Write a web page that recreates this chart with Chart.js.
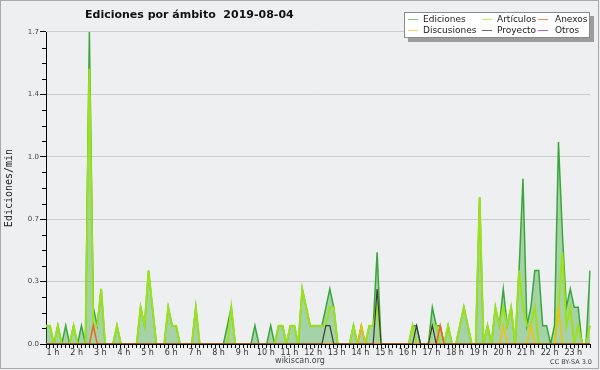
<!DOCTYPE html>
<html>
<head>
<meta charset="utf-8">
<script src="https://cdn.jsdelivr.net/npm/chart.js@4.4.1/dist/chart.umd.min.js"></script>
<style>
html,body{margin:0;padding:0;background:#eeeff1;}
#wrap{width:600px;height:370px;position:relative;}
</style>
</head>
<body>
<div id="wrap"><canvas id="c" width="600" height="370"></canvas></div>
<script>
// 10-minute slots, from 0:50 to 23:50
const slotTimes = Array.from({length: 139}, (_, i) => {
  const m = 50 + i * 10;
  return Math.floor(m / 60) + ':' + String(m % 60).padStart(2, '0');
});
const hourLabels = ['1 h','2 h','3 h','4 h','5 h','6 h','7 h','8 h','9 h','10 h','11 h','12 h',
  '13 h','14 h','15 h','16 h','17 h','18 h','19 h','20 h','21 h','22 h','23 h'];
const yTickLabels = ['0.0','0.3','0.7','1.0','1.4','1.7'];

const ediciones = [
  0.1,0.1,0,0.1,0,0.1,0,0.1,0,0.1,
  0,1.7,0.2,0.1,0.3,0,0,0,0.1,0,
  0,0,0,0,0.2,0.1,0.4,0.2,0,0,
  0,0.2,0.1,0.1,0,0,0,0,0.2,0,
  0,0,0,0,0,0,0.1,0.2,0,0,
  0,0,0,0.1,0,0,0,0.1,0,0.1,
  0.1,0,0.1,0.1,0,0.3,0.2,0.1,0.1,0.1,
  0.1,0.2,0.3,0.2,0,0,0,0,0.1,0,
  0.1,0,0.1,0.1,0.5,0,0,0,0,0,
  0,0,0,0.1,0.1,0,0,0,0.2,0.1,
  0.1,0,0.1,0,0,0.1,0.2,0.1,0,0,
  0.8,0,0.1,0,0.2,0.1,0.3,0.1,0.2,0,
  0.4,0.9,0.1,0.2,0.4,0.4,0.1,0.1,0,0.1,
  1.1,0.6,0.2,0.3,0.2,0.2,0,0,0.4
];
const articulos = [
  0.1,0.1,0,0.1,0,0,0,0.1,0,0,
  0,1.5,0.1,0.1,0.3,0,0,0,0.1,0,
  0,0,0,0,0.2,0.1,0.4,0.2,0,0,
  0,0.2,0.1,0.1,0,0,0,0,0.2,0,
  0,0,0,0,0,0,0,0.2,0,0,
  0,0,0,0,0,0,0,0,0,0.1,
  0.1,0,0.1,0.1,0,0.3,0.2,0.1,0.1,0.1,
  0.1,0.1,0.2,0.2,0,0,0,0,0.1,0,
  0,0,0.1,0.1,0.2,0,0,0,0,0,
  0,0,0,0.1,0,0,0,0,0.1,0.1,
  0,0,0.1,0,0,0.1,0.2,0.1,0,0,
  0.8,0,0.1,0,0.2,0.1,0.2,0.1,0.2,0,
  0.4,0.2,0.1,0.1,0.2,0,0,0,0,0,
  0.2,0.5,0.1,0.2,0,0.1,0,0,0.1
];
const anexos = [
  0,0,0,0,0,0,0,0,0,0,
  0,0,0.1,0,0,0,0,0,0,0,
  0,0,0,0,0,0,0,0,0,0,
  0,0,0,0,0,0,0,0,0,0,
  0,0,0,0,0,0,0,0,0,0,
  0,0,0,0,0,0,0,0,0,0,
  0,0,0,0,0,0,0,0,0,0,
  0,0,0,0,0,0,0,0,0,0,
  0,0,0,0,0,0,0,0,0,0,
  0,0,0,0,0,0,0,0,0,0,
  0.1,0,0,0,0,0,0,0,0,0,
  0,0,0,0,0,0,0,0,0,0,
  0,0,0,0,0,0,0,0,0,0,
  0,0,0,0,0,0,0,0,0
];
const discusiones = [
  0,0,0,0,0,0,0,0,0,0,
  0,0,0,0,0,0,0,0,0,0,
  0,0,0,0,0,0,0,0,0,0,
  0,0,0,0,0,0,0,0,0,0,
  0,0,0,0,0,0,0,0,0,0,
  0,0,0,0,0,0,0,0,0,0,
  0,0,0,0,0,0,0,0,0,0,
  0,0,0,0,0,0,0,0,0,0,
  0.1,0,0,0,0,0,0,0,0,0,
  0,0,0,0,0,0,0,0,0,0,
  0,0,0,0,0,0,0,0,0,0,
  0,0,0,0,0,0,0.1,0,0,0,
  0,0,0,0.1,0,0,0,0,0,0,
  0.2,0,0,0,0,0,0,0,0
];
const proyecto = [
  0,0,0,0,0,0,0,0,0,0,
  0,0,0,0,0,0,0,0,0,0,
  0,0,0,0,0,0,0,0,0,0,
  0,0,0,0,0,0,0,0,0,0,
  0,0,0,0,0,0,0,0,0,0,
  0,0,0,0,0,0,0,0,0,0,
  0,0,0,0,0,0,0,0,0,0,
  0,0.1,0.1,0,0,0,0,0,0,0,
  0,0,0,0,0.3,0,0,0,0,0,
  0,0,0,0,0.1,0,0,0,0.1,0,
  0,0,0,0,0,0,0,0,0,0,
  0,0,0,0,0,0,0,0,0,0,
  0,0,0,0,0,0,0,0,0,0,
  0,0,0,0,0,0,0,0,0
];
const otros = new Array(139).fill(0);

const BG = '#eeeff1';

const frame = {
  id: 'frame',
  beforeDraw(chart) {
    const ctx = chart.ctx;
    ctx.save();
    ctx.fillStyle = BG;
    ctx.fillRect(0, 0, chart.width, chart.height);
    ctx.strokeStyle = '#a9a9a9';
    ctx.lineWidth = 1;
    ctx.strokeRect(0.5, 0.5, 598, 368);
    ctx.fillStyle = '#111';
    ctx.font = 'bold 11px "DejaVu Sans"';
    ctx.textBaseline = 'alphabetic';
    ctx.textAlign = 'left';
    ctx.fillText('Ediciones por ámbito  2019-08-04', 85, 18);
    ctx.restore();
  },
  afterDraw(chart) {
    const ctx = chart.ctx;
    const y = chart.scales.y;
    ctx.save();
    // minor y ticks
    ctx.strokeStyle = '#000';
    ctx.lineWidth = 1;
    y.ticks.forEach((t, i) => {
      if (i % 4 !== 0) {
        const py = Math.round(y.getPixelForValue(t.value)) + 0.5;
        ctx.beginPath();
        ctx.moveTo(y.right - 4, py);
        ctx.lineTo(y.right, py);
        ctx.stroke();
      }
    });
    // footer texts
    ctx.fillStyle = '#444';
    ctx.font = '8px "DejaVu Sans"';
    ctx.textAlign = 'center';
    ctx.fillText('wikiscan.org', 300, 363);
    ctx.font = '6.5px "DejaVu Sans"';
    ctx.textAlign = 'right';
    ctx.fillText('CC BY-SA 3.0', 592, 364);
    // legend box
    const bx = 404, by = 12, bw = 186, bh = 26;
    ctx.fillStyle = '#9c9c9c';
    ctx.fillRect(bx + 4, by + 4, bw, bh);
    ctx.fillStyle = '#ffffff';
    ctx.fillRect(bx, by, bw, bh);
    ctx.strokeStyle = '#8a8a8a';
    ctx.strokeRect(bx + 0.5, by + 0.5, bw - 1, bh - 1);
    const swX = [408, 482, 538];
    const txX = [423, 497, 555];
    const rowY = [22, 32.5];
    ctx.font = '9px "DejaVu Sans"';
    ctx.textAlign = 'left';
    chart.data.datasets.forEach((ds, i) => {
      const c = i % 3, r = Math.floor(i / 3);
      ctx.strokeStyle = ds.legendColor;
      ctx.lineWidth = 1;
      ctx.beginPath();
      ctx.moveTo(swX[c], Math.round(rowY[r] - 3) + 0.5);
      ctx.lineTo(swX[c] + 10, Math.round(rowY[r] - 3) + 0.5);
      ctx.stroke();
      ctx.fillStyle = '#222';
      ctx.fillText(ds.label, txX[c], rowY[r]);
    });
    ctx.restore();
  }
};

new Chart(document.getElementById('c'), {
  type: 'line',
  data: {
    labels: slotTimes,
    datasets: [
      { label: 'Ediciones', data: ediciones, borderColor: '#38a838', borderWidth: 1.5,
        fill: 'origin', backgroundColor: 'rgba(56,168,56,0.4)', order: 6, legendColor: '#7fcf7f' },
      { label: 'Artículos', data: articulos, borderColor: '#9be21c', borderWidth: 2,
        fill: false, order: 5, legendColor: '#c4ee5a' },
      { label: 'Anexos', data: anexos, borderColor: '#f0661c', borderWidth: 1.5,
        fill: false, order: 2, legendColor: '#f08a5e' },
      { label: 'Discusiones', data: discusiones, borderColor: '#f2c200', borderWidth: 1.5,
        fill: false, order: 3, legendColor: '#f6d25a' },
      { label: 'Proyecto', data: proyecto, borderColor: '#3a3a3a', borderWidth: 1.2,
        fill: false, order: 1, legendColor: '#6a6a6a' },
      { label: 'Otros', data: otros, borderColor: '#8a4ee6', borderWidth: 1.2,
        fill: false, order: 4, legendColor: '#9a66ee' }
    ]
  },
  options: {
    responsive: false,
    animation: false,
    devicePixelRatio: 1,
    layout: { padding: { top: 32, right: 10, left: 0, bottom: 0 } },
    elements: { point: { radius: 0, hoverRadius: 0 }, line: { tension: 0 } },
    plugins: { legend: { display: false }, tooltip: { enabled: false }, title: { display: false } },
    scales: {
      x: {
        type: 'category',
        offset: false,
        z: 1,
        grid: { display: true, drawOnChartArea: false, drawTicks: true, tickLength: 4, tickColor: '#000' },
        border: { display: true, color: '#000', width: 1 },
        ticks: {
          autoSkip: false, maxRotation: 0, minRotation: 0, padding: 0, labelOffset: 3,
          color: '#333', font: { family: 'DejaVu Sans', size: 8 },
          callback(v, i) {
            const t = slotTimes[i];
            return t.endsWith(':00') ? hourLabels[parseInt(t, 10) - 1] : '';
          }
        },
        afterFit(s) { s.height = 26; }
      },
      y: {
        type: 'linear',
        min: 0,
        max: 1.7,
        afterBuildTicks(s) {
          s.ticks = Array.from({length: 21}, (_, k) => ({ value: k * 0.085 }));
        },
        grid: {
          color: c => (c.index % 4 === 0 && c.index > 0) ? '#cdcdcd' : 'rgba(0,0,0,0)',
          tickColor: c => (c.index % 4 === 0) ? '#000' : 'rgba(0,0,0,0)',
          tickLength: 6,
          lineWidth: 1
        },
        border: { display: true, color: '#000', width: 1 },
        ticks: {
          padding: 1, color: '#444', font: { family: 'DejaVu Sans', size: 7 },
          callback: (v, i) => (i % 4 === 0) ? yTickLabels[i / 4] : ''
        },
        title: { display: true, text: 'Ediciones/min', color: '#222',
          font: { family: 'DejaVu Sans Mono', size: 10 }, padding: { top: 3, bottom: 0 } },
        afterFit(s) { s.width = 46; }
      }
    }
  },
  plugins: [frame]
});
</script>
</body>
</html>
